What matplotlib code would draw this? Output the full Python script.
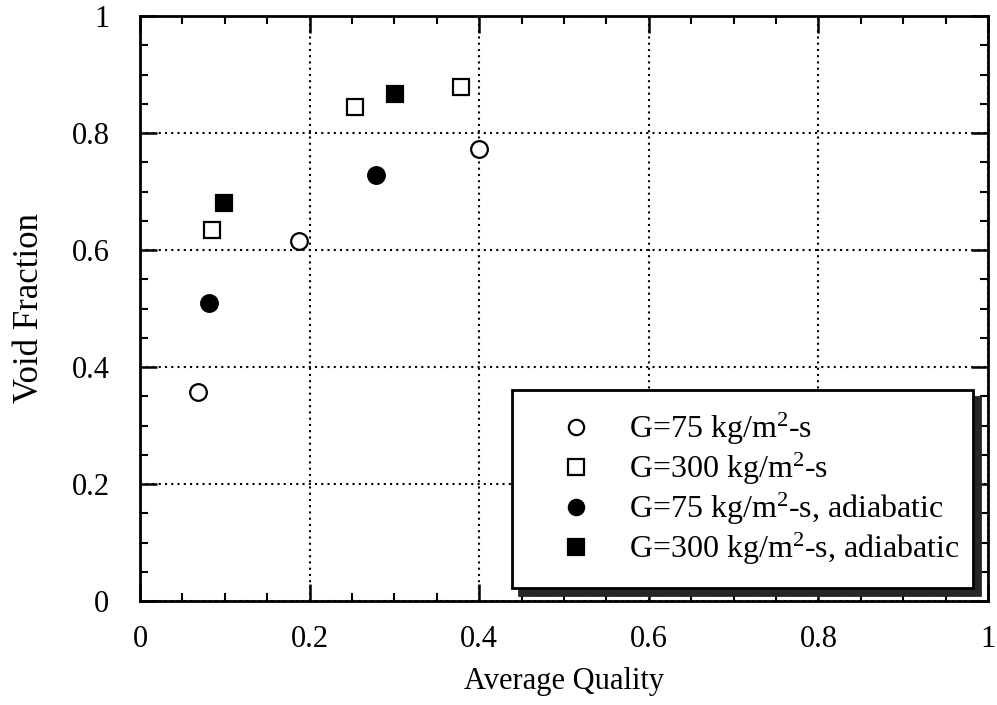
import matplotlib
matplotlib.use("Agg")
import matplotlib.pyplot as plt
from matplotlib.ticker import MultipleLocator

plt.rcParams['font.family'] = ['Liberation Serif', 'DejaVu Serif']
plt.rcParams['mathtext.fontset'] = 'custom'
plt.rcParams['mathtext.rm'] = 'Liberation Serif'
plt.rcParams['mathtext.it'] = 'Liberation Serif:italic'

# Measured void fraction vs. average quality
x_g75 = [0.068, 0.188, 0.400]
y_g75 = [0.357, 0.615, 0.773]
x_g300 = [0.085, 0.253, 0.378]
y_g300 = [0.634, 0.844, 0.878]
x_g75_adb = [0.081, 0.278]
y_g75_adb = [0.509, 0.729]
x_g300_adb = [0.099, 0.301]
y_g300_adb = [0.681, 0.866]

labels = [r'G=75 kg/m$^2$-s', r'G=300 kg/m$^2$-s',
          r'G=75 kg/m$^2$-s, adiabatic', r'G=300 kg/m$^2$-s, adiabatic']
x_ticks = [0, 0.2, 0.4, 0.6, 0.8, 1]
x_ticklabels = ['0', '0.2', '0.4', '0.6', '0.8', '1']
y_ticks = [0, 0.2, 0.4, 0.6, 0.8, 1]
y_ticklabels = ['0', '0.2', '0.4', '0.6', '0.8', '1']

fig = plt.figure(figsize=(9.97, 7.05), dpi=100)
ax = fig.add_axes([140/997, 104/705, 848/997, 585/705])

ms = 12
ax.plot(x_g75, y_g75, 'o', ls='none', ms=ms, mfc='white', mec='black', mew=1.6, label=labels[0], zorder=3)
ax.plot(x_g300, y_g300, 's', ls='none', ms=ms, mfc='white', mec='black', mew=1.6, label=labels[1], zorder=3)
ax.plot(x_g75_adb, y_g75_adb, 'o', ls='none', ms=ms, mfc='black', mec='black', mew=1.6, label=labels[2], zorder=3)
ax.plot(x_g300_adb, y_g300_adb, 's', ls='none', ms=ms, mfc='black', mec='black', mew=1.6, label=labels[3], zorder=3)

ax.set_xlim(0, 1)
ax.set_ylim(0, 1)
ax.set_xticks(x_ticks)
ax.set_xticklabels(x_ticklabels)
ax.set_yticks(y_ticks)
ax.set_yticklabels(y_ticklabels)
ax.xaxis.set_minor_locator(MultipleLocator(0.05))
ax.yaxis.set_minor_locator(MultipleLocator(0.05))
ax.tick_params(which='both', direction='in', top=True, right=True, colors='black')
ax.tick_params(which='major', length=12, width=1.8, labelsize=22)
ax.tick_params(axis='x', which='major', pad=17)
ax.tick_params(axis='y', which='major', pad=22)
ax.tick_params(which='minor', length=6, width=1.5)

ax.grid(True, which='major', color='black', linestyle=(0, (1, 2)), linewidth=1.5)
for s in ax.spines.values():
    s.set_linewidth(2)

ax.set_xlabel('Average Quality', fontsize=22, labelpad=10)
ax.set_ylabel('Void Fraction', fontsize=25, labelpad=18)

leg = ax.legend(loc='lower left', bbox_to_anchor=(0.439, 0.022, 0.543, 0.342), mode='expand',
                fontsize=23, frameon=True, fancybox=False, framealpha=1,
                edgecolor='black', borderpad=0.65, labelspacing=0.12, handletextpad=0.33,
                handlelength=2.66, borderaxespad=0,
                shadow={'ox': 5, 'oy': -5, 'color': '0.15', 'alpha': 1})
leg.get_frame().set_linewidth(2)
for h in leg.legend_handles:
    h.set_markersize(11)

fig.savefig('out.png', dpi=100)
